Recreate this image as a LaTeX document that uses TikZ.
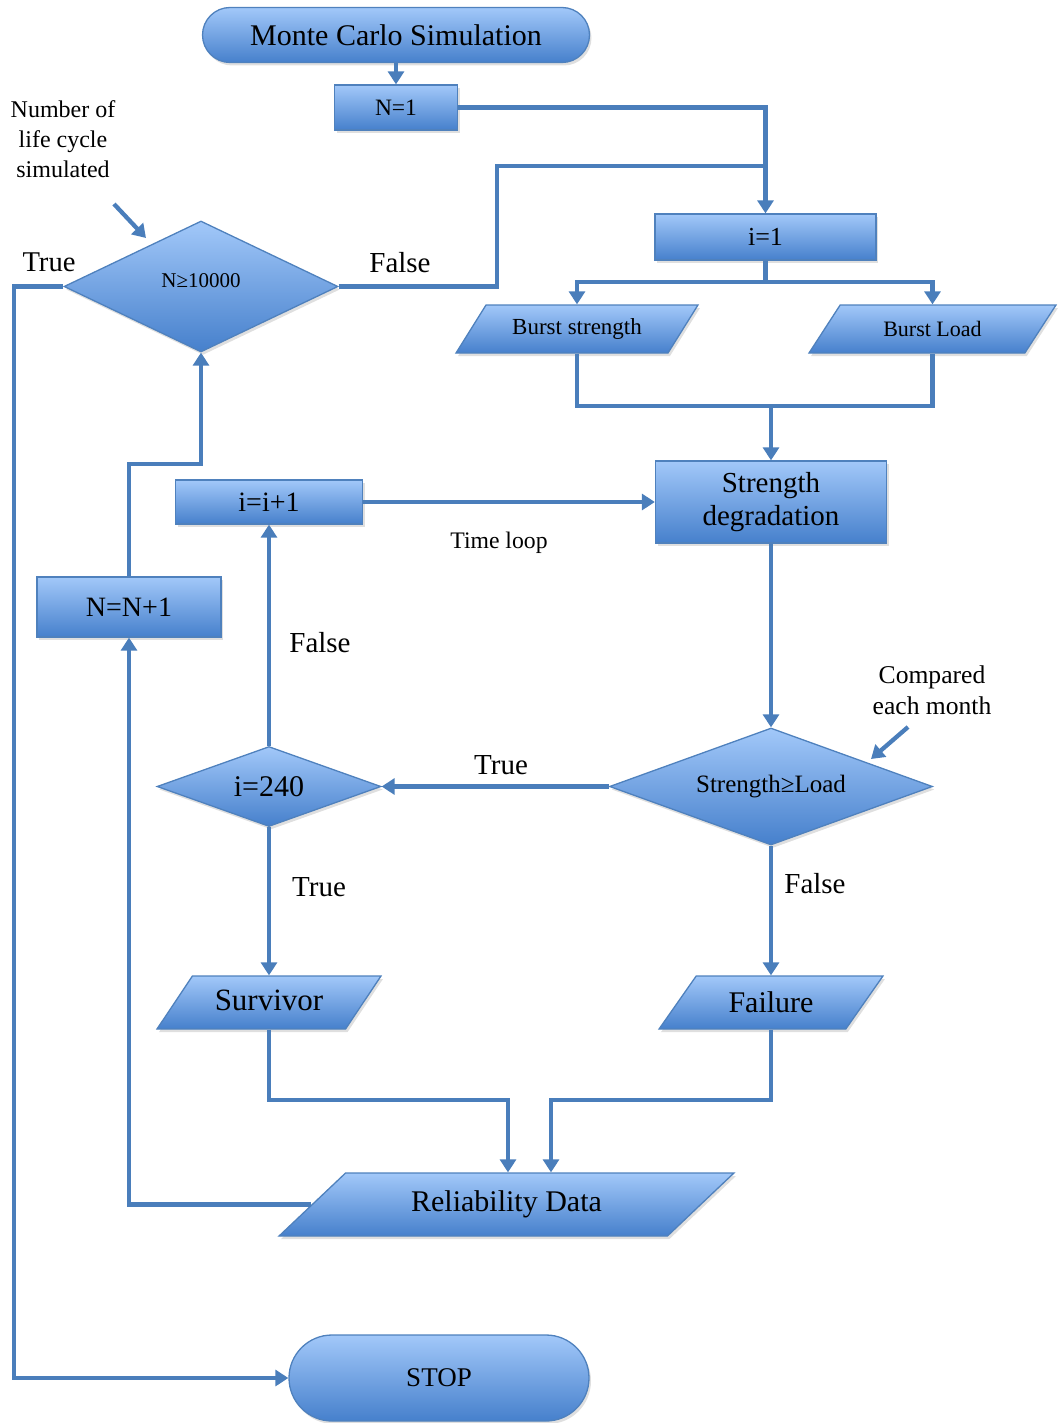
\documentclass[tikz,border=0pt]{standalone}
\usepackage{fontspec}
\setmainfont{Liberation Serif}
\usetikzlibrary{shapes.geometric,shapes.misc,arrows.meta,shadows,calc}
\definecolor{ln}{HTML}{4A7EBB}
\definecolor{topc}{HTML}{A2C8F9}
\definecolor{botc}{HTML}{4680CC}
\definecolor{bd}{HTML}{4F81BD}
\newcommand{\fs}[1]{\fontsize{#1}{#1}\selectfont}
\begin{document}
\begin{tikzpicture}[x=1pt,y=-1pt,
  shp/.style={draw=bd, line width=1.3pt, top color=topc, bottom color=botc, inner sep=0pt, text=black,
    drop shadow={opacity=0.25,shadow xshift=2pt,shadow yshift=-3pt}},
  boxn/.style={shp, rectangle, minimum width=#1},
  term/.style={shp, rounded rectangle, minimum width=#1},
  dia/.style={shp, diamond, minimum width=#1},
  para/.style={shp, trapezium, trapezium stretches=true, minimum width=#1},
  line/.style={draw=ln, line width=4.3pt},
  conn/.style={line, -{Triangle[width=16pt,length=13pt]}},
  lbl/.style={inner sep=0pt, text=black, align=center}
]
\useasboundingbox (0,0) rectangle (1057,1423);

% shapes
\node[term=387, minimum height=55, font=\fs{30}] (mc) at (396,35) {Monte Carlo Simulation};
\node[boxn=123, minimum height=45, font=\fs{23.5}] (n1) at (396,107.5) {N=1};
\node[dia=274, minimum height=131, shape aspect=2.09, font=\fs{21}] (d1) at (201,286.5) {\raisebox{11pt}{N≥10000}};
\node[boxn=221, minimum height=46, font=\fs{26}] (i1) at (765.5,237) {i=1};
\node[para=242, minimum height=48, trapezium left angle=44.4, trapezium right angle=135.6, font=\fs{23}] (bs) at (577,329) {Burst strength};
\node[para=247, minimum height=48, trapezium left angle=43, trapezium right angle=137, font=\fs{22}] (bl) at (932.5,329) {Burst Load};
\node[boxn=231, minimum height=82, font=\fontsize{29}{33}\selectfont, align=center] (sd) at (771,502) {Strength\\degradation};
\node[boxn=187, minimum height=44, font=\fs{28}] (ii) at (269,502) {i=i+1};
\node[boxn=184, minimum height=60, font=\fs{28}] (nn) at (129,607) {N=N+1};
\node[dia=323, minimum height=117, shape aspect=2.76, font=\fs{25}] (d2) at (771,786.5) {\raisebox{5pt}{Strength≥Load}};
\node[dia=224, minimum height=80, shape aspect=2.8, font=\fs{30}] (d3) at (269,786.5) {i=240};
\node[para=224, minimum height=53, trapezium left angle=45.5, trapezium right angle=134.5, font=\fs{31}] (sv) at (269,1002.5) {\raisebox{5pt}{Survivor}};
\node[para=224, minimum height=53, trapezium left angle=45, trapezium right angle=135, font=\fs{30}] (fl) at (771,1002.5) {Failure};
\node[para=455, minimum height=63, trapezium left angle=34.7, trapezium right angle=145.3, font=\fs{30}] (rd) at (506.5,1204.5) {\raisebox{5pt}{Reliability Data}};
\node[term=300, minimum height=86, font=\fs{27}] (stop) at (439,1378) {STOP};

% helper coordinates
\coordinate (f1) at (497,166);
\coordinate (j1) at (765.5,166);
\coordinate (sp) at (765.5,282);
\coordinate (mg) at (771,406);
\coordinate (c1) at (508,1100);
\coordinate (c2) at (551,1100);
\coordinate (c3) at (201,464);
\coordinate (c4) at (14,286.5);
\coordinate (a1s) at (114,204);
\coordinate (a1e) at (146,238);
\coordinate (a2s) at (908,727);
\coordinate (a2e) at (871,759);

% connectors
\draw[conn] (mc.south) -- (n1.north);
\draw[conn] (n1.east) -| (i1.north);
\draw[line] (d1.east) -| (f1) -- (j1);
\draw[line] (i1.south) -- (sp);
\draw[conn] (sp) -| (bs.center |- bs.north);
\draw[conn] (sp) -| (bl.center |- bl.north);
\draw[line] (bs.center |- bs.south) |- (bl.center |- mg) -- (bl.center |- bl.south);
\draw[conn] (mg) -- (sd.north);
\draw[conn] (ii.east) -- (sd.west);
\draw[conn] (sd.south) -- (d2.north);
\draw[conn] (d2.west) -- (d3.east);
\draw[conn] (d3.north) -- (ii.south);
\draw[conn] (d3.south) -- (sv.center |- sv.north);
\draw[conn] (d2.south) -- (fl.center |- fl.north);
\draw[conn] (sv.center |- sv.south) |- (c1) -- (c1 |- rd.north);
\draw[conn] (fl.center |- fl.south) |- (c2) -- (c2 |- rd.north);
\draw[conn] (rd.west) -| (nn.south);
\draw[conn] (nn.north) |- (c3) -- (d1.south);
\draw[conn] (d1.west) -- (c4) |- (stop.west);
\draw[conn] (a1s) -- (a1e);
\draw[conn] (a2s) -- (a2e);

% labels
\node[lbl, font=\fontsize{24}{30}\selectfont] (t1) at (63,139) {Number of\\life cycle\\simulated};
\node[lbl, font=\fontsize{25.6}{31}\selectfont] (t2) at (932,690) {Compared\\each month};
\node[lbl, font=\fs{28.6}] (t3) at (49,262) {True};
\node[lbl, font=\fs{29}] (t4) at (400,263) {False};
\node[lbl, font=\fs{23.7}] (t5) at (499,543) {Time loop};
\node[lbl, font=\fs{29}] (t6) at (320,643) {False};
\node[lbl, font=\fs{29}] (t7) at (501,765) {True};
\node[lbl, font=\fs{29}] (t8) at (319,887) {True};
\node[lbl, font=\fs{29}] (t9) at (815,884) {False};
\end{tikzpicture}
\end{document}
